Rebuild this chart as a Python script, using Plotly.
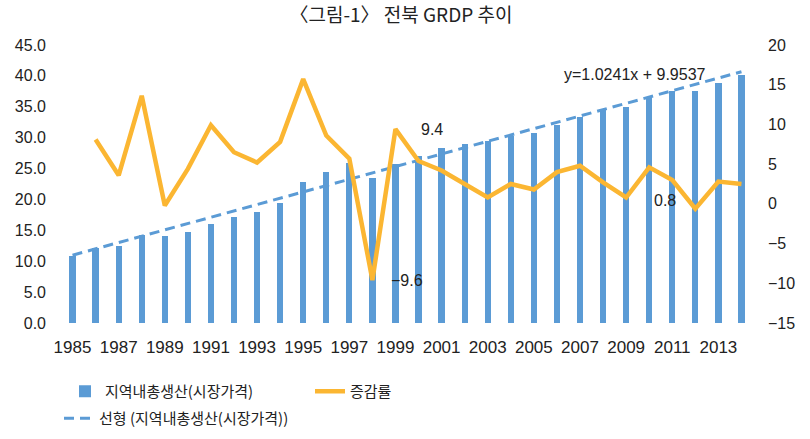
import plotly.graph_objects as go

years = list(range(1985, 2015))
grdp = [10.8, 12.1, 12.5, 14.3, 14.1, 14.7, 16.1, 17.2, 17.9, 19.4,
        22.8, 24.5, 25.9, 23.4, 25.8, 27.1, 28.3, 29.0, 29.4, 30.2,
        30.8, 32.1, 33.3, 34.6, 34.9, 36.4, 37.6, 37.6, 38.8, 40.1]
growth_years = list(range(1986, 2015))
growth = [8.1, 3.6, 13.6, -0.2, 4.4, 9.9, 6.5, 5.2, 7.8, 15.7,
          8.6, 5.7, -9.6, 9.4, 5.4, 4.2, 2.5, 0.8, 2.5, 1.8,
          4.0, 4.8, 2.7, 0.8, 4.6, 3.0, -0.6, 2.8, 2.5]
trend_slope = 1.0241
trend_intercept = 9.9537
trend = [trend_slope * (i + 1) + trend_intercept for i in range(len(years))]
tick_years = list(range(1985, 2014, 2))

BLUE = "#5B9BD5"
ORANGE = "#FBB632"
FONT = "Liberation Sans, Noto Sans CJK KR, sans-serif"
KFONT = "Noto Sans CJK KR, sans-serif"

fig = go.Figure()
fig.add_trace(go.Bar(x=years, y=grdp, name="지역내총생산(시장가격)",
                     marker=dict(color=BLUE, line=dict(width=0)), width=0.27,
                     legend="legend"))
fig.add_trace(go.Scatter(x=growth_years, y=growth, name="증감률", mode="lines",
                         line=dict(color=ORANGE, width=4.5), yaxis="y2",
                         legend="legend"))
fig.add_trace(go.Scatter(x=years, y=trend, name="선형 (지역내총생산(시장가격))",
                         mode="lines", line=dict(color=BLUE, width=3, dash="10px,6px"),
                         legend="legend2"))

ann_font = dict(family=FONT, size=16, color="#222")
fig.add_annotation(x=2006.2, y=40.2, xref="x", yref="y", text="y=1.0241x + 9.9537",
                   showarrow=False, xanchor="left", font=ann_font)
fig.add_annotation(x=2000.6, y=9.4, xref="x", yref="y2", text="9.4",
                   showarrow=False, font=ann_font)
fig.add_annotation(x=1999.5, y=-9.6, xref="x", yref="y2", text="−9.6",
                   showarrow=False, font=ann_font)
fig.add_annotation(x=2010.7, y=0.4, xref="x", yref="y2", text="0.8",
                   showarrow=False, font=ann_font)

fig.update_layout(
    width=810, height=439,
    margin=dict(l=61, r=57, t=44.5, b=115.7),
    paper_bgcolor="white", plot_bgcolor="white",
    title=dict(text="〈그림-1〉 전북 GRDP 추이", x=0.495, xanchor="center",
               y=0.965, yanchor="middle",
               font=dict(family=KFONT, size=19, color="#222")),
    font=dict(family=FONT, size=16, color="#222"),
    xaxis=dict(range=[1984.5, 2014.5], tickvals=tick_years, showgrid=False,
               zeroline=False, showline=False, ticks="", ticklabelstandoff=12,
               tickfont=dict(size=17)),
    yaxis=dict(range=[0, 45], dtick=5, tickformat=".1f", showgrid=False,
               zeroline=False, showline=False, ticks="", ticklabelstandoff=14),
    yaxis2=dict(range=[-15, 20], dtick=5, overlaying="y", side="right",
                showgrid=False, zeroline=False, showline=False, ticks="",
                ticklabelstandoff=14),
    showlegend=True,
    legend=dict(orientation="h", xref="container", yref="container",
                x=65/810, y=1 - 375/439, xanchor="left", yanchor="top",
                entrywidth=200, font=dict(family=KFONT, size=15, color="#222"),
                bgcolor="rgba(0,0,0,0)"),
    legend2=dict(orientation="h", xref="container", yref="container",
                 x=59/810, y=1 - 402/439, xanchor="left", yanchor="top",
                 font=dict(family=KFONT, size=15, color="#222"),
                 bgcolor="rgba(0,0,0,0)"),
    bargap=0,
)

fig.write_html("out.html", config={"displayModeBar": False},
               post_script="document.body.style.margin='0';document.body.style.overflow='hidden';")
